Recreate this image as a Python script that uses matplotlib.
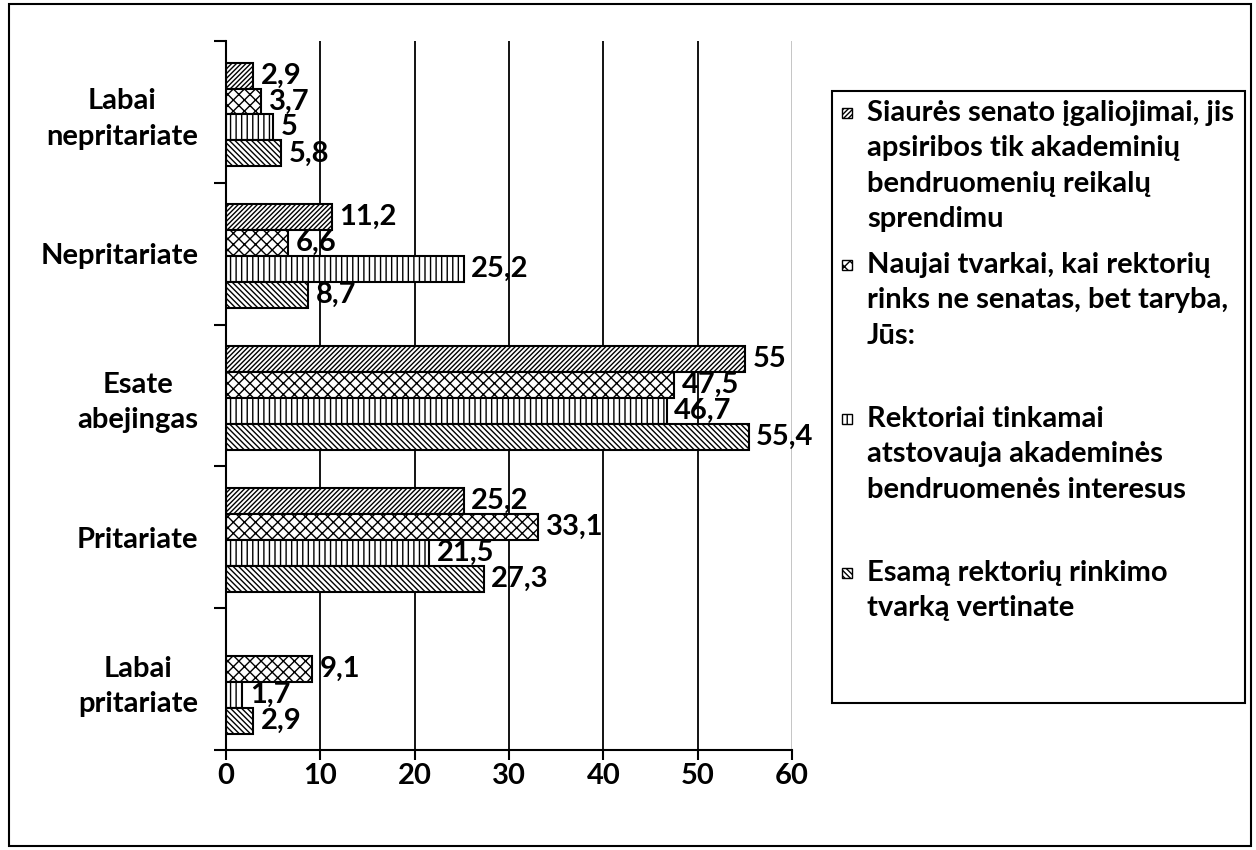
import numpy as np
import matplotlib
matplotlib.use("Agg")
import matplotlib.pyplot as plt
from matplotlib.patches import Rectangle

plt.rcParams['font.family'] = ['Lato', 'DejaVu Sans']
plt.rcParams['font.weight'] = 'bold'
plt.rcParams['hatch.linewidth'] = 1.0

W, H = 1256, 850
FS = 21
LS = 1.45

# Data
categories = ['Labai\nnepritariate', 'Nepritariate', 'Esate\nabejingas', 'Pritariate', 'Labai\npritariate']
series_names = [
    'Siaurės senato įgaliojimai, jis\napsiribos tik akademinių\nbendruomenių reikalų\nsprendimu',
    'Naujai tvarkai, kai rektorių\nrinks ne senatas, bet taryba,\nJūs:',
    'Rektoriai tinkamai\natstovauja akademinės\nbendruomenės interesus',
    'Esamą rektorių rinkimo\ntvarką vertinate',
]
siaures = [2.9, 11.2, 55, 25.2, np.nan]
naujai = [3.7, 6.6, 47.5, 33.1, 9.1]
rektoriai = [5, 25.2, 46.7, 21.5, 1.7]
esama = [5.8, 8.7, 55.4, 27.3, 2.9]
series = [siaures, naujai, rektoriai, esama]
hatches = ['///////', 'xxx', '|||', '\\\\\\\\\\\\']
xticks = [0, 10, 20, 30, 40, 50, 60]

fig = plt.figure(figsize=(W / 100, H / 100), dpi=100)

# outer border
fig.patches.append(Rectangle((9 / W, 4 / H), 1242 / W, 842 / H, transform=fig.transFigure,
                             fill=False, lw=1.5, edgecolor='black'))

ax = fig.add_axes([226 / W, 1 - 750 / H, (792 - 226) / W, (750 - 41) / H])
ax.set_xlim(0, 60)
ax.set_ylim(len(categories), 0)

# grid lines
for x in xticks[1:]:
    ax.axvline(x, color='black' if x < 60 else '#c0c0c0', lw=1.3, zorder=0)

bar_h = 0.183
centers = np.arange(len(categories)) + 0.5
for j, (vals, hatch) in enumerate(zip(series, hatches)):
    y = centers + 0.018 + (j - 1.5) * bar_h
    v = np.array(vals, dtype=float)
    ok = ~np.isnan(v)
    ax.barh(y[ok], v[ok], height=bar_h, color='white', edgecolor='black',
            hatch=hatch, lw=1.5, zorder=2)
    for yy, vv in zip(y[ok], v[ok]):
        ax.annotate(f"{vv:g}".replace('.', ','), (vv, yy), xytext=(5.5, 0),
                    textcoords='offset points', va='center', ha='left',
                    fontsize=FS, fontweight='bold', zorder=3)

ax.spines['top'].set_visible(False)
ax.spines['right'].set_visible(False)
ax.spines['left'].set_linewidth(1.5)
ax.spines['bottom'].set_linewidth(1.5)

ax.set_xticks(xticks)
ax.set_xticklabels([str(t) for t in xticks], fontsize=FS, fontweight='bold')
ax.tick_params(axis='x', length=7, width=1.5, pad=2)

# major ticks at category boundaries, category names on minor ticks
ax.set_yticks(np.arange(len(categories) + 1))
ax.set_yticklabels([])
ax.tick_params(axis='y', which='major', length=9, width=1.5)
ax.set_yticks(centers, minor=True)
ax.set_yticklabels(categories, minor=True, fontsize=FS, fontweight='bold',
                   multialignment='center', linespacing=LS)
ax.tick_params(axis='y', which='minor', length=0, pad=20)

# legend (drawn by hand to keep Excel-like even spacing)
fig.patches.append(Rectangle((832 / W, 1 - 703 / H), (1245 - 832) / W, (703 - 91) / H,
                             transform=fig.transFigure, fill=False, lw=1.5, edgecolor='black'))
entry_y = [113, 265, 419, 573]
for name, hatch, yc in zip(series_names, hatches, entry_y):
    fig.patches.append(Rectangle((842 / W, 1 - (yc + 5) / H), 10 / W, 10 / H,
                                 transform=fig.transFigure, facecolor='white',
                                 edgecolor='black', hatch=hatch, lw=1.0))
    fig.text(867 / W, 1 - (yc - 13) / H, name, fontsize=FS, fontweight='bold',
             ha='left', va='top', linespacing=LS)

fig.savefig('out.png', dpi=100)
